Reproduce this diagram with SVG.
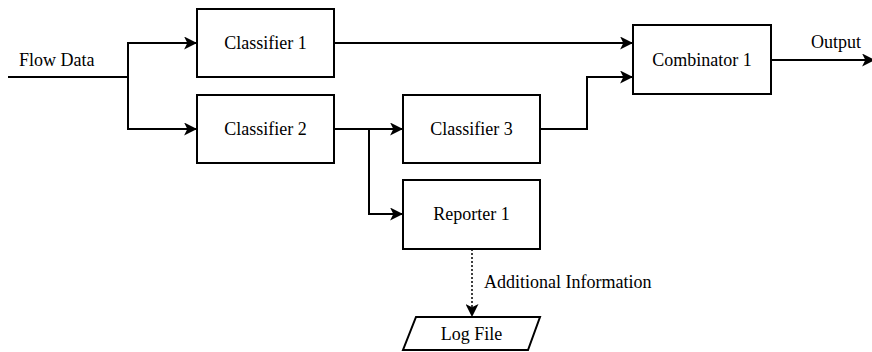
<svg xmlns="http://www.w3.org/2000/svg" width="872" height="352" viewBox="0 0 872 352">
  <defs>
    <style>
      .box { fill: #ffffff; stroke: #000000; stroke-width: 2; }
      .lbl { font-family: "Liberation Serif", Tinos, "Times New Roman", "DejaVu Serif", serif; font-size: 18px; fill: #000000; }
      .mid { text-anchor: middle; }
      .wire { fill: none; stroke: #000000; stroke-width: 2; }
      .dot { fill: none; stroke: #000000; stroke-width: 1.5; stroke-dasharray: 2 2; }
    </style>
    <marker id="arrow" viewBox="0 0 12 12" refX="11" refY="6" markerWidth="13" markerHeight="13" markerUnits="userSpaceOnUse" orient="auto">
      <path d="M0,0 L12,6 L0,12 L3,6 Z" fill="#000000"/>
    </marker>
  </defs>
  <rect width="872" height="352" fill="#ffffff"/>

  <g id="connectors">
    <!-- Flow Data split -->
    <path class="wire" d="M8,77 H128"/>
    <path class="wire" d="M128,77 V43 H196" marker-end="url(#arrow)"/>
    <path class="wire" d="M128,77 V129 H196" marker-end="url(#arrow)"/>
    <!-- Classifier 1 to Combinator 1 -->
    <path class="wire" d="M334,43 H632" marker-end="url(#arrow)"/>
    <!-- Classifier 2 to Classifier 3 and Reporter 1 -->
    <path class="wire" d="M334,129 H402" marker-end="url(#arrow)"/>
    <path class="wire" d="M369,129 V214 H402" marker-end="url(#arrow)"/>
    <!-- Classifier 3 to Combinator 1 -->
    <path class="wire" d="M540,129 H587 V77 H632" marker-end="url(#arrow)"/>
    <!-- Output -->
    <path class="wire" d="M771,60 H874" marker-end="url(#arrow)"/>
    <!-- Reporter 1 to Log File -->
    <path class="dot" d="M472,249 V316" marker-end="url(#arrow)"/>
    <text class="lbl" x="19" y="66">Flow Data</text>
    <text class="lbl" x="811" y="48">Output</text>
    <text class="lbl" x="484" y="288">Additional Information</text>
  </g>

  <g id="classifier1">
    <rect class="box" x="197" y="9" width="137" height="68"/>
    <text class="lbl mid" x="265.5" y="49">Classifier 1</text>
  </g>
  <g id="classifier2">
    <rect class="box" x="197" y="95" width="137" height="68"/>
    <text class="lbl mid" x="265.5" y="135">Classifier 2</text>
  </g>
  <g id="classifier3">
    <rect class="box" x="403" y="95" width="137" height="68"/>
    <text class="lbl mid" x="471.5" y="135">Classifier 3</text>
  </g>
  <g id="reporter1">
    <rect class="box" x="403" y="180" width="137" height="69"/>
    <text class="lbl mid" x="471.5" y="220">Reporter 1</text>
  </g>
  <g id="combinator1">
    <rect class="box" x="633" y="25" width="138" height="69"/>
    <text class="lbl mid" x="702" y="66">Combinator 1</text>
  </g>
  <g id="logfile">
    <polygon class="box" points="416,317 540,317 528,350 403,350"/>
    <text class="lbl mid" x="471.5" y="340">Log File</text>
  </g>
</svg>
